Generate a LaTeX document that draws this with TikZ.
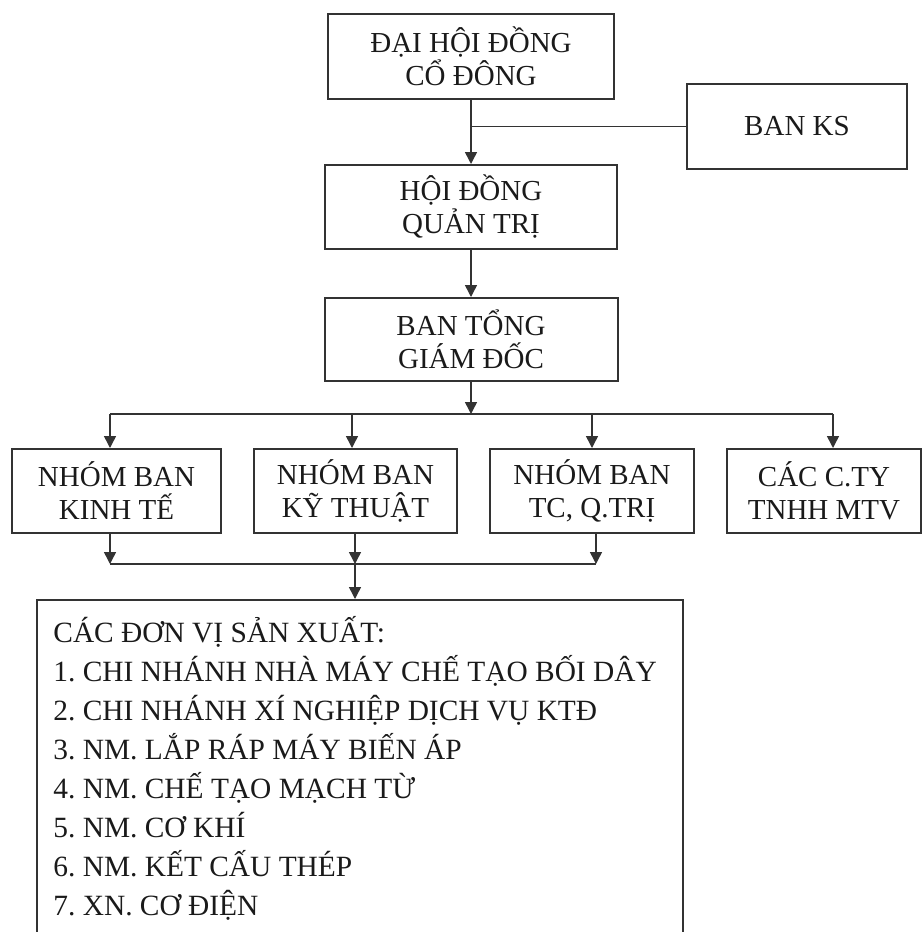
\documentclass[tikz,border=0pt]{standalone}
\usepackage{fontspec}
\setmainfont{Liberation Serif}
\usetikzlibrary{positioning, arrows.meta, calc}
\definecolor{boxline}{HTML}{333333}
\definecolor{inkblack}{HTML}{1A1A1A}
\newcommand\boxfont{\fontsize{14.5pt}{16.5pt}\selectfont\lineskiplimit=-20pt\relax}
\newcommand\listfont{\fontsize{14.7pt}{19.5pt}\selectfont\lineskiplimit=-20pt\relax}
\newcommand\plainspaces{\spaceskip=0pt\xspaceskip=0pt\frenchspacing}

\begin{document}
\begin{tikzpicture}[
    x=0.5pt, y=-0.5pt,
    orgnode/.style={
        draw=boxline, line width=1pt, rectangle,
        text=inkblack, align=center, inner sep=2pt,
        font=\boxfont
    },
    arrow/.style={-{Triangle[length=6pt, width=6pt]}, line width=0.75pt, draw=boxline},
    link/.style={line width=0.75pt, draw=boxline},
]
\useasboundingbox (0,0) rectangle (922,932);

% Top of the chart
\node[orgnode, minimum width=143pt, minimum height=42.5pt] (dhcd) at (471,56.5) {ĐẠI HỘI ĐỒNG\\CỔ ĐÔNG};
\node[orgnode, minimum width=110pt, minimum height=42.5pt] (banks) at (797,126.5) {BAN KS};
\node[orgnode, minimum width=146pt, minimum height=42pt, below=32pt of dhcd] (hdqt) {HỘI ĐỒNG\\QUẢN TRỊ};
\node[orgnode, minimum width=146.5pt, minimum height=41.5pt, below=23.5pt of hdqt] (btgd) {BAN TỔNG\\GIÁM ĐỐC};

% Row of groups
\node[orgnode, minimum width=104.5pt, minimum height=42pt] (kt) at (116.5,491) {NHÓM BAN\\KINH TẾ};
\node[orgnode, minimum width=101.5pt, minimum height=42pt] (kth) at (355.5,491) {NHÓM BAN\\KỸ THUẬT};
\node[orgnode, minimum width=102pt, minimum height=42pt] (tcqt) at (592,491) {NHÓM BAN\\TC, Q.TRỊ};
\node[orgnode, minimum width=97pt, minimum height=42pt] (cty) at (824,491) {CÁC C.TY\\TNHH MTV};

% Production units
\node[draw=boxline, line width=1pt, minimum width=323pt, minimum height=175pt, anchor=north] (donvi) at (360,599) {};
\node[anchor=base west, text width=315pt, align=left, inner sep=0pt, text=inkblack,
      font=\listfont] (dslist) at (53,642)
    {\plainspaces CÁC ĐƠN VỊ SẢN XUẤT:\\
     1. CHI NHÁNH NHÀ MÁY CHẾ TẠO BỐI DÂY\\
     2. CHI NHÁNH XÍ NGHIỆP DỊCH VỤ KTĐ\\
     3. NM. LẮP RÁP MÁY BIẾN ÁP\\
     4. NM. CHẾ TẠO MẠCH TỪ\\
     5. NM. CƠ KHÍ\\
     6. NM. KẾT CẤU THÉP\\
     7. XN. CƠ ĐIỆN};

% Connectors
\coordinate (topbus) at (471,414);
\coordinate (ktin) at (110,414);
\coordinate (kthin) at (352,414);
\coordinate (tcin) at (592,414);
\coordinate (ctyin) at (833,414);
\coordinate (ktout) at (110,564);
\coordinate (kthout) at (355,564);
\coordinate (tcout) at (596,564);

\draw[arrow] (dhcd.south) -- (dhcd.south |- hdqt.north);
\draw[link] (banks.west) -- (banks.west -| dhcd.south);
\draw[arrow] (hdqt) -- (btgd);
\draw[arrow] (btgd.south) -- (btgd.south |- topbus);
\draw[link] (ktin) -- (ctyin);
\foreach \c/\n in {ktin/kt, kthin/kth, tcin/tcqt, ctyin/cty}
    \draw[arrow] (\c) -- (\c |- \n.north);
\foreach \c/\n in {ktout/kt, kthout/kth, tcout/tcqt}
    \draw[arrow] (\c |- \n.south) -- (\c);
\draw[link] (ktout) -- (tcout);
\draw[arrow] (kthout) -- (kthout |- donvi.north);
\end{tikzpicture}
\end{document}
